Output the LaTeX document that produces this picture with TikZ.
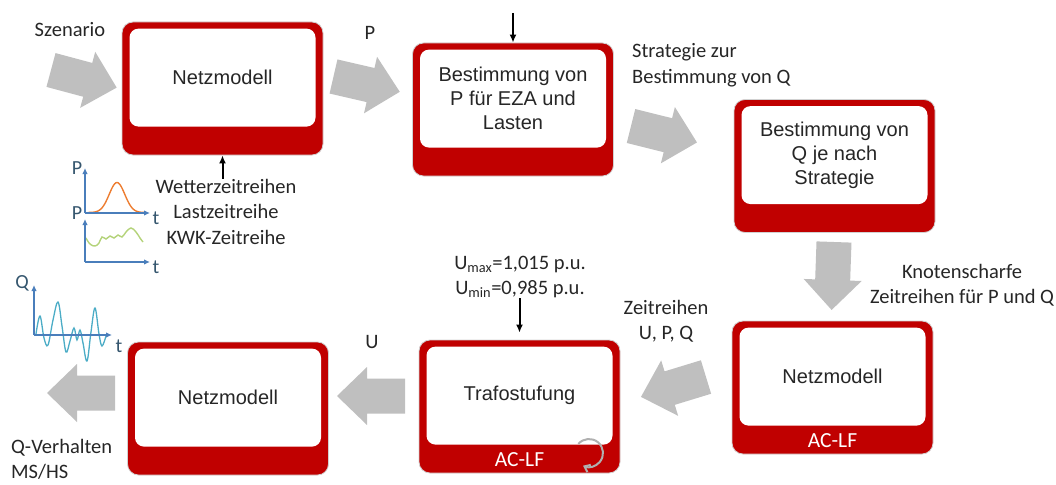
\documentclass[tikz,border=0pt]{standalone}
\usepackage{fontspec}
\setmainfont{Liberation Sans}
\newfontfamily\calf{Carlito}
\usetikzlibrary{arrows.meta,calc}
\definecolor{boxred}{HTML}{C00000}
\definecolor{arrgray}{HTML}{BFBFBF}
\definecolor{loopgray}{HTML}{B0B0B0}
\definecolor{axblue}{HTML}{4A7EBB}
\definecolor{lblblue}{HTML}{35566E}
\definecolor{curveor}{HTML}{ED7D31}
\definecolor{curvegr}{HTML}{B4D37A}
\definecolor{curvecy}{HTML}{4BACC6}
\newcommand\boxfont{\fontsize{20}{24}\selectfont}
\newcommand\lblfont{\calf\fontsize{20.5}{25.5}\selectfont}
\tikzset{
  outerbox/.style={draw=black!18, line width=0.8pt, fill=boxred, rounded corners=11pt,
    minimum width=201pt, minimum height=133pt, inner sep=0pt},
  innerbox/.style={fill=white, rounded corners=9pt, minimum width=186pt, minimum height=98pt,
    align=center, font=\boxfont, text=black!85, inner sep=0pt},
  aclf/.style={text=white, font=\calf\fontsize{21.5}{24}\selectfont, inner sep=0pt},
  lbl/.style={font=\lblfont, align=center, text=black!85, inner sep=0pt},
  blackarr/.style={line width=2pt, -{Latex[length=8pt,width=7pt]}},
  chartax/.style={draw=axblue, line width=1.3pt, -{Latex[length=6pt,width=5.5pt]}},
  chartlbl/.style={text=lblblue, font=\calf\fontsize{20}{22}\selectfont, inner sep=0pt},
  barrow/.pic={\fill[arrgray] (0,-17.5) -- (38,-17.5) -- (38,-29) -- (68,0) -- (38,29) -- (38,17.5) -- (0,17.5) -- cycle;}
}
\begin{document}
\begin{tikzpicture}[x=1pt,y=-1pt]
\useasboundingbox (0,0) rectangle (1056,484);

% boxes
\node[outerbox] (b1) at (222.5,88.5) {};
\node[innerbox] (b1i) at ($(b1.north)+(0,56)$) {Netzmodell};
\node[outerbox] (b2) at (513,109.5) {};
\node[innerbox] (b2i) at ($(b2.north)+(0,56)$) {Bestimmung von\\P für EZA und\\Lasten};
\node[outerbox] (b3) at (834.5,166) {};
\node[innerbox] (b3i) at ($(b3.north)+(0,56)$) {Bestimmung von\\Q je nach\\Strategie};
\node[outerbox] (b4) at (832.5,387.5) {};
\node[innerbox] (b4i) at ($(b4.north)+(0,56)$) {Netzmodell};
\node[aclf] (b4a) at ($(b4i.south)!0.5!(b4.south)$) {AC-LF};
\node[outerbox] (b5) at (519.5,406.5) {};
\node[innerbox] (b5i) at ($(b5.north)+(0,56)$) {Trafostufung};
\node[aclf] (b5a) at ($(b5i.south)!0.5!(b5.south)$) {AC-LF};
\node[outerbox] (b6) at (228,408.5) {};
\node[innerbox] (b6i) at ($(b6.north)+(0,56)$) {Netzmodell};

% loop symbol in Trafostufung box
\coordinate (loopc) at (589,453);
\draw[loopgray, line width=2pt, -{Straight Barb[length=5pt,width=8pt]}]
  (loopc) ++(140:14pt) arc[start angle=140, end angle=-115, radius=14pt];

% block arrows
\pic[rotate=-15] at (51,70) {barrow};
\pic[rotate=-13] at (333.5,76.5) {barrow};
\pic[rotate=-14] at (631,126) {barrow};
\pic[rotate=-92] at (834,242) {barrow};
\pic[rotate=197] at (706,377) {barrow};
\pic[rotate=180] at (405,396) {barrow};
\pic[rotate=180] at (115,393) {barrow};

% labels
\node[lbl] (sz) at (70,30) {Szenario};
\node[lbl] (pl) at (370,33) {P};
\node[lbl, align=left, anchor=west] (strat) at (632,65) {Strategie zur\\Bestimmung von Q};
\node[lbl] (knot) at (962,285) {Knotenscharfe\\Zeitreihen für P und Q};
\node[lbl] (zr) at (666,321) {Zeitreihen\\U, P, Q};
\node[lbl] (umax) at (520,277) {U\textsubscript{max}=1,015 p.u.\\U\textsubscript{min}=0,985 p.u.};
\node[lbl] (ul) at (372,342) {U};
\node[lbl] (wetter) at (226,211.5) {Wetterzeitreihen\\Lastzeitreihe\\KWK-Zeitreihe};
\node[lbl, align=left, anchor=west] (qv) at (11,459.5) {Q-Verhalten\\MS/HS};

% black input arrows
\coordinate (top2) at (513,13);
\draw[blackarr] (top2) -- (b2.north);
\draw[blackarr] (wetter.north -| b1.south) -- (b1.south);
\draw[blackarr, shorten >=7pt] (umax.south -| b5.north) -- (b5.north);

% chart 1 (P, orange)
\coordinate (o1) at (85,213);
\coordinate (y1) at (85,168);
\coordinate (x1) at (150,213);
\draw[curveor, line width=1.4pt] plot[domain=88:145, samples=50, smooth] (\x, {212.5-30*exp(-((\x-117)/11)^2)});
\draw[chartax] (o1) -- (y1);
\draw[chartax] (o1) -- (x1);
\node[chartlbl] (p1) at (77,168) {P};
\node[chartlbl] (t1) at (156,218) {t};

% chart 2 (P, green)
\coordinate (o2) at (85,262);
\coordinate (y2) at (85,219);
\coordinate (x2) at (150,262);
\draw[curvegr, line width=1.4pt] plot[smooth, tension=0.7] coordinates {(86,238) (90,244) (95,246) (99,243) (102,237) (106,239) (110,236) (114,238) (118,235) (122,237) (126,232) (131,228) (136,232) (140,238) (143,242)};
\draw[chartax] (o2) -- (y2);
\draw[chartax] (o2) -- (x2);
\node[chartlbl] (p2) at (77,213) {P};
\node[chartlbl] (t2) at (156,267) {t};

% chart 3 (Q, cyan)
\coordinate (o3) at (34,335);
\coordinate (y3) at (34,285);
\coordinate (x3) at (112,335);
\draw[curvecy, line width=1.3pt] plot[smooth, tension=0.6] coordinates {(36,334) (40,316) (44,338) (48,345) (53,320) (58,302) (62,326) (66,352) (70,341) (74,328) (77,340) (80,330) (83,343) (87,361) (91,332) (95,308) (99,334) (102,346) (106,336)};
\draw[chartax] (o3) -- (y3);
\draw[chartax] (o3) -- (x3);
\node[chartlbl] (q3) at (22,283) {Q};
\node[chartlbl] (t3) at (119,346) {t};
\end{tikzpicture}
\end{document}
